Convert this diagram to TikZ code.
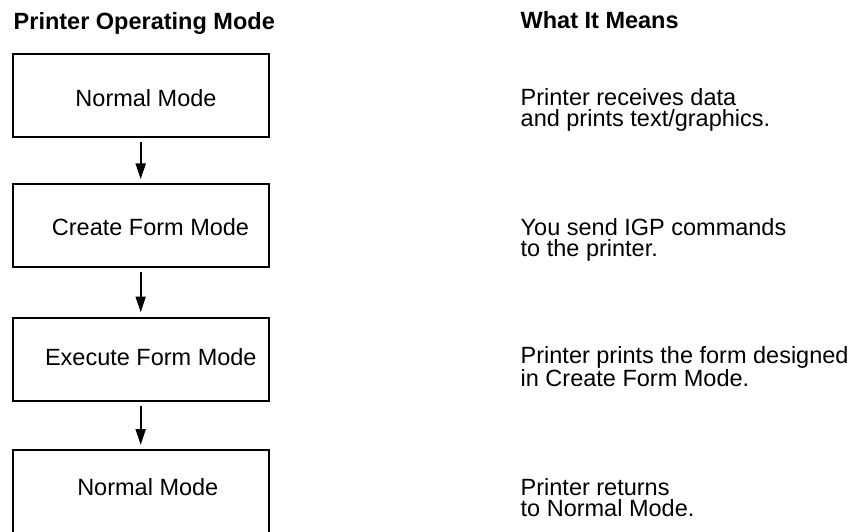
\documentclass[tikz,border=0pt]{standalone}
\usepackage{fontspec}
\setmainfont{Liberation Sans}
\usetikzlibrary{arrows.meta}

\begin{document}
\begin{tikzpicture}[x = 1pt, y = -1pt,
    modebox/.style = {draw, line width = 2pt, minimum width = 256pt,
        minimum height = 83pt, inner sep = 0},
    txt/.style = {inner sep = 0, font = \fontsize{23.5}{21.7}\selectfont},
    head/.style = {txt, anchor = base west,
        font = \bfseries\fontsize{23.5}{21.7}\selectfont},
    note/.style = {txt, anchor = base west, align = left},
    flow/.style = {-{Triangle[length = 16pt, width = 10pt]}, line width = 2pt,
        shorten < = 4pt, shorten > = 4pt}]
    \useasboundingbox (0, 0) rectangle (863, 531);

    %% headings
    \node[head] (modehead) at (13.5, 29) {Printer Operating Mode};
    \node[head] (meanhead) at (520.5, 28.5) {What It Means};

    %% mode boxes
    \node[modebox] (normal)  at (140.7, 95.8)  {};
    \node[modebox] (create)  at (140.7, 225.8) {};
    \node[modebox] (execute) at (140.7, 359)   {};
    \node[modebox] (back)    at (140.7, 491.5) {};

    \node[txt, anchor = base] (normaltxt)  at (146, 106)   {Normal Mode};
    \node[txt, anchor = base] (createtxt)  at (150.5, 235) {Create Form Mode};
    \node[txt, anchor = base] (executetxt) at (150.8, 365) {Execute Form Mode};
    \node[txt, anchor = base] (backtxt)    at (147.8, 495) {Normal Mode};

    %% flow
    \draw[flow] (normal) -- (create);
    \draw[flow] (create) -- (execute);
    \draw[flow] (execute) -- (back);

    %% meanings (base = last line)
    \node[note] (normalnote)  at (520.5, 126.7) {Printer receives data\\and prints text/graphics.};
    \node[note] (createnote)  at (520.5, 256.7) {You send IGP commands\\to the printer.};
    \node[note] (executenote) at (520.5, 386.7) {Printer prints the form designed\\in Create Form Mode.};
    \node[note] (backnote)    at (520.5, 516.7) {Printer returns\\to Normal Mode.};
\end{tikzpicture}
\end{document}
